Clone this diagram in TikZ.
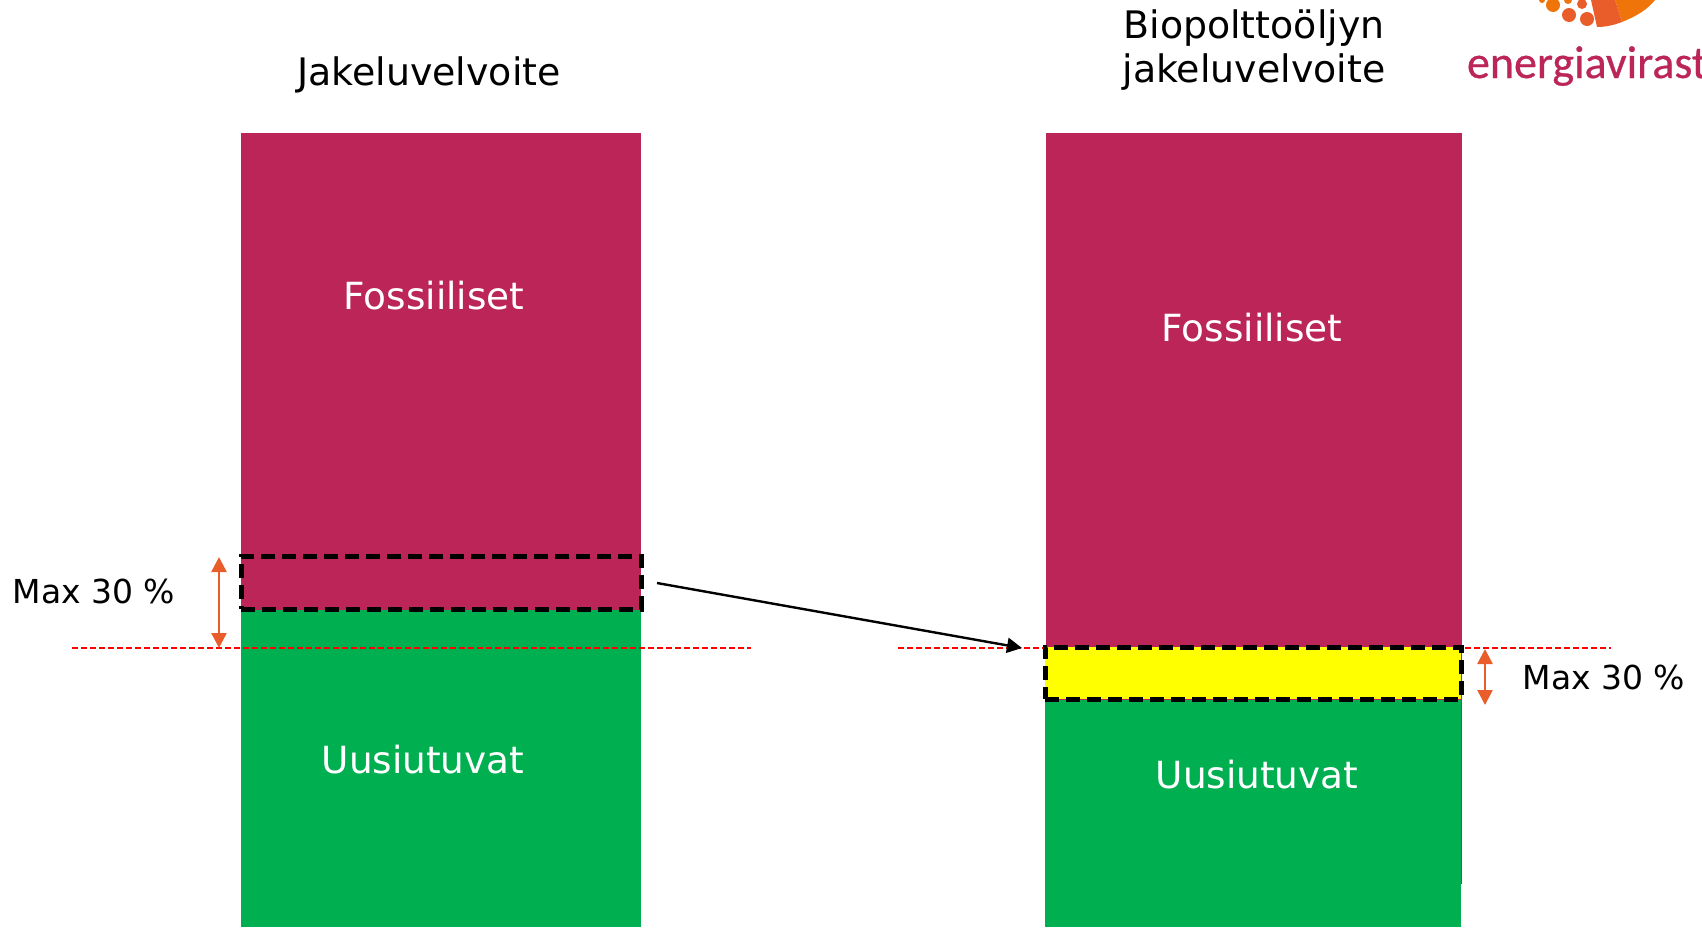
\documentclass[tikz,border=0pt]{standalone}
\usepackage{fontspec}
\setmainfont{DejaVu Sans}
\newfontfamily\logofont{Carlito}
\usetikzlibrary{arrows.meta}
\definecolor{crimson}{HTML}{BB2558}
\definecolor{leaf}{HTML}{00AF50}
\definecolor{ember}{HTML}{E85D2A}
\definecolor{amber}{HTML}{EF7409}
\definecolor{marker}{HTML}{FFFF00}

\begin{document}
\begin{tikzpicture}[x=1pt,y=-1pt,
  bar/.style={inner sep=0pt,outer sep=0pt,anchor=north west},
  share/.style={draw=black,line width=5pt,dash pattern=on 14pt off 7pt,inner sep=0pt,outer sep=0pt,anchor=north west},
  limit/.style={red,line width=2.4pt,dash pattern=on 6pt off 3pt},
  span/.style={ember,line width=2.5pt,{Triangle[length=15pt,width=15pt]}-{Triangle[length=15pt,width=15pt]}},
  title/.style={font=\fontsize{37.9}{44}\selectfont,align=center,inner sep=0pt},
  inbar/.style={font=\fontsize{37.4}{44}\selectfont,text=white,inner sep=0pt},
  note/.style={font=\fontsize{33}{38}\selectfont,inner sep=0pt}]
  \useasboundingbox (0,0) rectangle (1702,927);

  % logo
  \fill[amber] (1615,0) -- (1622,22) .. controls (1637,16) and (1648,9) .. (1655,0) -- cycle;
  \fill[ember] (1591,0) -- (1597,27) .. controls (1606,27) and (1614,25) .. (1622,22) -- (1615,0) -- cycle;
  \foreach \px/\py/\pr/\pc in {1553/5/7/amber,1569/15/7/ember,1587/19/7/ember,1582/4/5/ember,1568/0/4/amber,1542/0/3/amber}
    \fill[\pc] (\px,\py) circle (\pr);
  \node[bar,anchor=base west,text=crimson,font=\logofont\fontsize{46}{49}\selectfont] (logo) at (1467,78) {\addfontfeature{FakeBold=0.6}energiavirast};

  % left bar
  \node[bar,fill=crimson,minimum width=400pt,minimum height=477pt] (fossilL) at (241,133) {};
  \node[bar,fill=leaf,minimum width=400pt,minimum height=317pt] (renewL) at (241,610) {};
  % right bar
  \node[bar,fill=crimson,minimum width=416pt,minimum height=751pt] (fossilR) at (1046,133) {};
  \node[bar,fill=leaf,minimum width=416pt,minimum height=227pt] (renewR) at (1045,700) {};

  % limit lines
  \coordinate (limLa) at (72,648);
  \coordinate (limLb) at (751,648);
  \coordinate (limRa) at (898,648);
  \coordinate (limRb) at (1611,648);
  \draw[limit] (limLa) -- (limLb);
  \draw[limit] (limRa) -- (limRb);

  % dashed boxes
  \node[share,minimum width=400pt,minimum height=53pt] (shareL) at (241,556) {};
  \node[share,fill=marker,minimum width=416pt,minimum height=52pt] (shareR) at (1045,647) {};

  % arrows
  \coordinate (moveStart) at (657,583);
  \coordinate (moveEnd) at (1022,648);
  \draw[black,line width=2.4pt,-{Triangle[length=15pt,width=15pt]}] (moveStart) -- (moveEnd);
  \coordinate (spanLa) at (219,557);
  \coordinate (spanLb) at (219,648);
  \coordinate (spanRa) at (1485,649);
  \coordinate (spanRb) at (1485,705);
  \draw[span] (spanLa) -- (spanLb);
  \draw[span] (spanRa) -- (spanRb);

  % texts
  \node[title] (titleL) at (429,75) {Jakeluvelvoite};
  \node[title] (titleR) at (1254,50) {Biopolttoöljyn\\jakeluvelvoite};
  \node[inbar] (textFL) at (434,296) {Fossiiliset};
  \node[inbar] (textFR) at (1252,328) {Fossiiliset};
  \node[inbar] (textUL) at (423,760) {Uusiutuvat};
  \node[inbar] (textUR) at (1257,775) {Uusiutuvat};
  \node[note] (maxL) at (94,591) {Max 30 \%};
  \node[note] (maxR) at (1604,677) {Max 30 \%};
\end{tikzpicture}
\end{document}
